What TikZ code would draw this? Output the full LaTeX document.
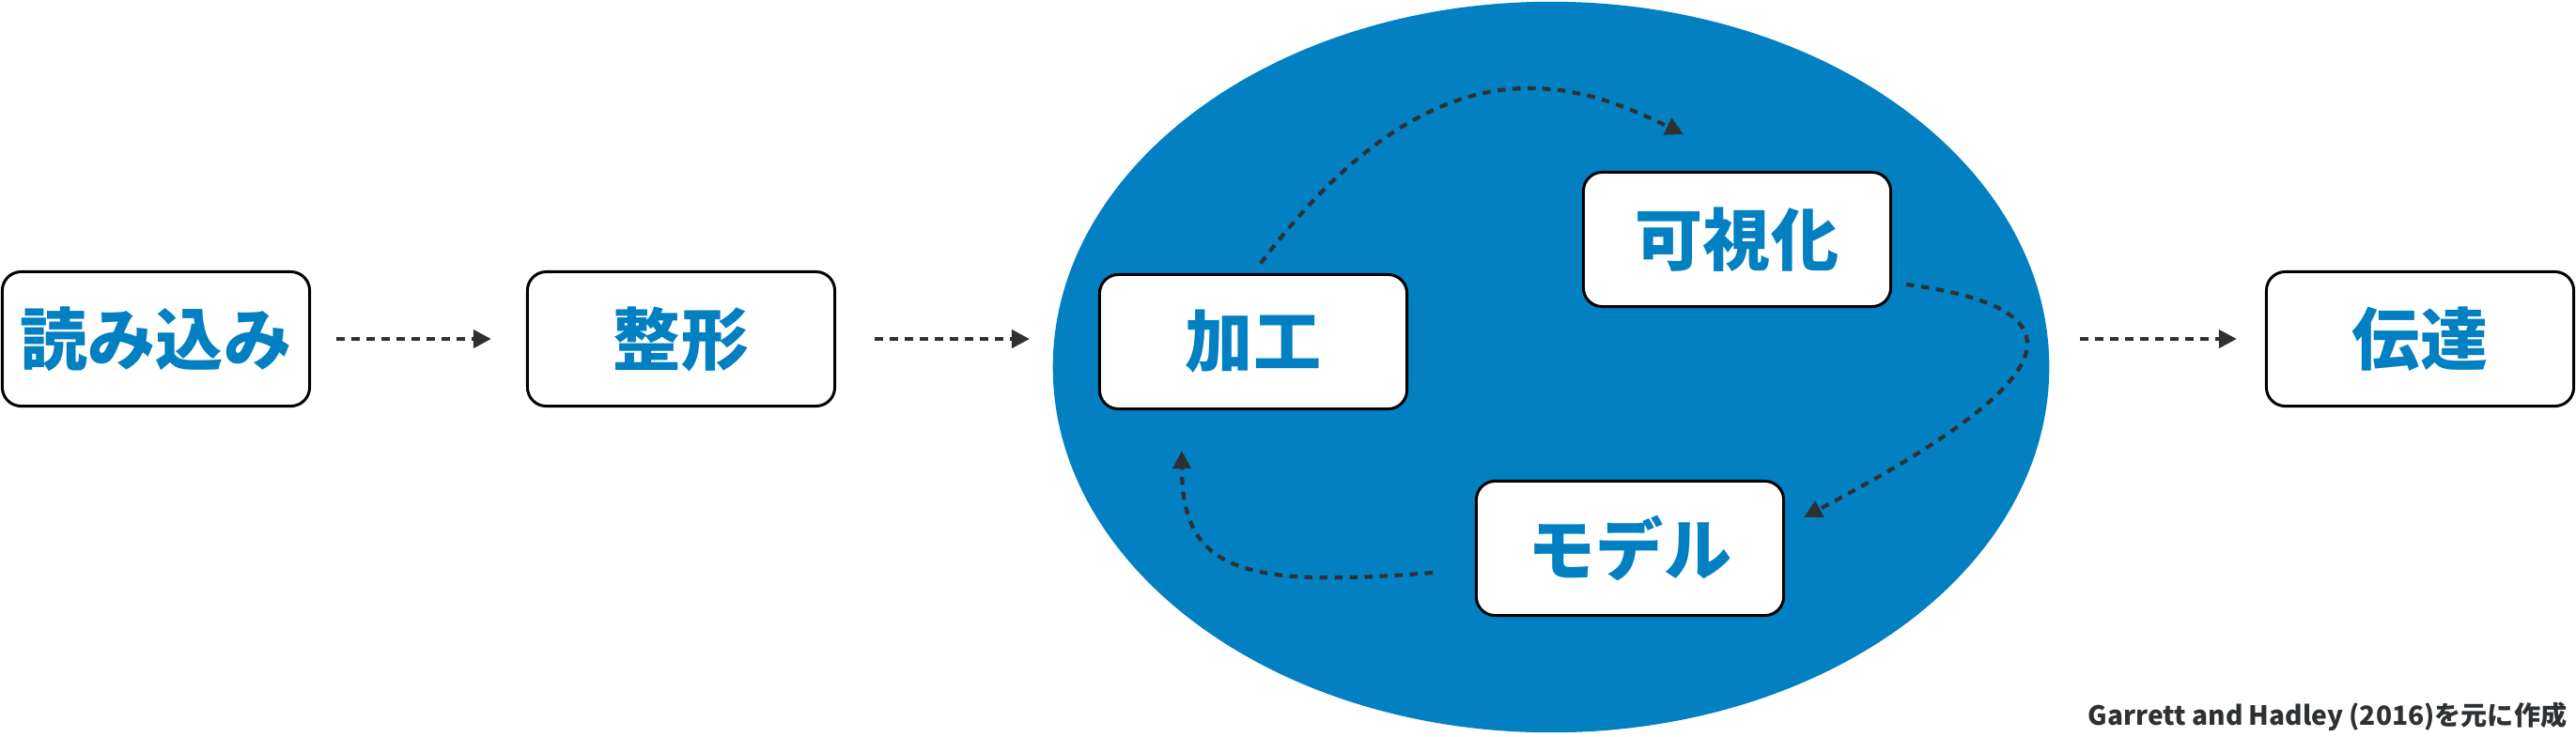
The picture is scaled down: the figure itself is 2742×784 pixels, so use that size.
\documentclass[tikz,border=0pt]{standalone}
\usepackage{fontspec}
\setmainfont{Noto Sans CJK JP}
\usetikzlibrary{arrows.meta,shapes.geometric}

\definecolor{stepblue}{HTML}{0280C2}
\definecolor{arrowgray}{HTML}{2E3133}

\tikzset{
    stage/.style={draw=black, line width=0.03cm, fill=white, rounded corners=0.2cm,
        minimum width=3.27cm, minimum height=1.43cm, text=stepblue,
        font=\fontsize{20.5pt}{24pt}\selectfont\bfseries},
    flow/.style={draw=arrowgray, line width=0.042cm, dash pattern=on 0.085cm off 0.075cm,
        -{Triangle[length=0.19cm,width=0.19cm]}},
}

\begin{document}
\begin{tikzpicture}[x=0.01cm, y=-0.01cm]
    % Canvas
    \useasboundingbox (0,0) rectangle (2742,784);

    % Cycle area
    \node[ellipse, fill=stepblue, inner sep=0pt, minimum width=10.6cm, minimum height=7.78cm] (cycle) at (1651,391) {};

    % Stages
    \node[stage] (yomikomi) at (166,361) {読み込み};
    \node[stage] (seikei) at (725,361) {整形};
    \node[stage] (kako) at (1334,364) {加工};
    \node[stage] (kashika) at (1849,255) {可視化};
    \node[stage] (model) at (1735,584) {モデル};
    \node[stage] (dentatsu) at (2576,361) {伝達};

    % Straight flow
    \draw[flow, shorten <=0.27cm, shorten >=0.37cm] (yomikomi) -- (seikei);
    \draw[flow, shorten <=0.41cm, shorten >=0.24cm] (seikei.east) -- (seikei.east -| cycle.west);
    \draw[flow, shorten <=0.32cm, shorten >=0.30cm] (dentatsu.west -| cycle.east) -- (dentatsu.west);

    % Cycle flow
    \draw[flow, shorten <=0.13cm] (kako.north) .. controls +(196,-260) and +(-112,-55) .. ([shift={(-57,-39)}]kashika.north);
    \draw[flow] ([shift={(15,48)}]kashika.east) .. controls +(202,27) and +(272,-143) .. ([shift={(20,40)}]model.north east);
    \draw[flow] ([shift={(-45,26)}]model.west) .. controls +(-200,16) and +(0,130) .. ([shift={(-76,43)}]kako.south);

    % Source
    \node[anchor=base east, inner sep=0pt, text=arrowgray, font=\fontsize{8pt}{9pt}\selectfont\bfseries] (credit) at (2733,772) {Garrett and Hadley (2016)を元に作成};
\end{tikzpicture}
\end{document}
